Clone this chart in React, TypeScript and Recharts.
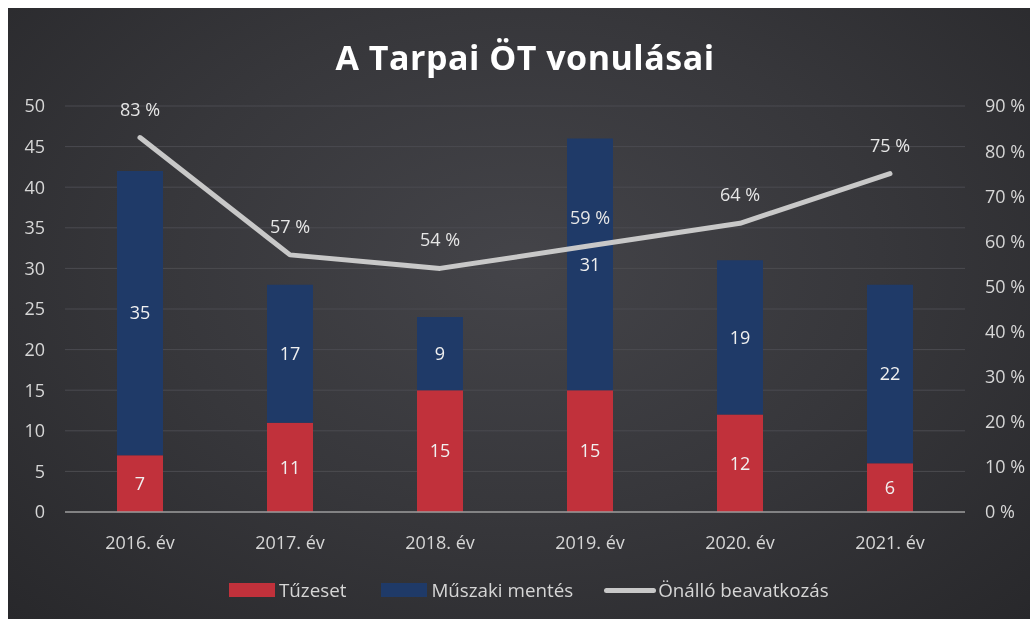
import { ComposedChart, Bar, Line, XAxis, YAxis, CartesianGrid, Legend, LabelList } from 'recharts';

const years = ['2016. év', '2017. év', '2018. év', '2019. év', '2020. év', '2021. év'];
const tuzeset = [7, 11, 15, 15, 12, 6];
const muszakiMentes = [35, 17, 9, 31, 19, 22];
const onalloBeavatkozas = [83, 57, 54, 59, 64, 75];
const leftTicks = [0, 5, 10, 15, 20, 25, 30, 35, 40, 45, 50];
const rightTicks = [0, 10, 20, 30, 40, 50, 60, 70, 80, 90];
const seriesOrder = ['Tűzeset', 'Műszaki mentés', 'Önálló beavatkozás'];

const chartData = years.map((year, i) => ({
  year,
  'Tűzeset': tuzeset[i],
  'Műszaki mentés': muszakiMentes[i],
  'Önálló beavatkozás': onalloBeavatkozas[i],
}));

const FONT = '"Open Sans", "DejaVu Sans", sans-serif';
const TEXT = '#d6d6d6';

function LegendContent(props: any) {
  const items = [...(props.payload || [])].sort(
    (a: any, b: any) => seriesOrder.indexOf(a.value) - seriesOrder.indexOf(b.value)
  );
  return (
    <div style={{ display: 'flex', alignItems: 'center', paddingLeft: 221, fontFamily: FONT, fontSize: 18.8, color: TEXT }}>
      {items.map((entry: any, idx: number) => (
        <div key={entry.value} style={{ display: 'flex', alignItems: 'center', marginRight: idx === 0 ? 35 : 31 }}>
          {entry.type === 'line' ? (
            <div style={{ width: 52, height: 5, borderRadius: 3, background: '#c8c8c8', marginRight: 2 }} />
          ) : (
            <div style={{ width: 46, height: 14, background: entry.color, marginRight: 4 }} />
          )}
          <span>{entry.value}</span>
        </div>
      ))}
    </div>
  );
}

export default function App() {
  return (
    <div
      style={{
        position: 'fixed',
        top: 8,
        left: 8,
        width: 1022,
        height: 611,
        background: 'radial-gradient(ellipse at 50% 42%, #444449 0%, #37373b 50%, #28282b 100%)',
        fontFamily: FONT,
      }}
    >
      <div
        style={{
          position: 'absolute',
          top: 26,
          left: 0,
          width: 1034,
          textAlign: 'center',
          color: '#ffffff',
          fontSize: 34,
          fontWeight: 700,
          letterSpacing: 0.5,
        }}
      >
        A Tarpai ÖT vonulásai
      </div>
      <ComposedChart
        width={1022}
        height={611}
        data={chartData}
        margin={{ top: 98, right: 0, bottom: 67, left: 0 }}
        style={{ position: 'absolute', top: 0, left: 0 }}
      >
        <CartesianGrid vertical={false} stroke="#4b4b50" strokeWidth={1} yAxisId="left" />
        <XAxis
          dataKey="year"
          height={40}
          tickLine={false}
          tickMargin={18}
          axisLine={{ stroke: '#9a9a9a', strokeWidth: 1.5 }}
          tick={{ fill: TEXT, fontSize: 18, fontFamily: FONT }}
        />
        <YAxis
          yAxisId="left"
          width={57}
          domain={[0, 50]}
          ticks={leftTicks}
          interval={0}
          axisLine={false}
          tickLine={false}
          tickMargin={14}
          tick={{ fill: TEXT, fontSize: 18, fontFamily: FONT }}
        />
        <YAxis
          yAxisId="right"
          orientation="right"
          width={65}
          domain={[0, 90]}
          ticks={rightTicks}
          interval={0}
          axisLine={false}
          tickLine={false}
          tickMargin={14}
          tickFormatter={(v) => `${v} %`}
          tick={{ fill: TEXT, fontSize: 18, fontFamily: FONT }}
        />
        <Bar yAxisId="left" dataKey="Tűzeset" stackId="a" fill="#c1313b" barSize={46} isAnimationActive={false}>
          <LabelList dataKey="Tűzeset" position="center" fill="#f0f0f0" fontSize={18} fontFamily={FONT} />
        </Bar>
        <Bar yAxisId="left" dataKey="Műszaki mentés" stackId="a" fill="#1f3a68" barSize={46} isAnimationActive={false}>
          <LabelList dataKey="Műszaki mentés" position="center" fill="#f0f0f0" fontSize={18} fontFamily={FONT} />
        </Bar>
        <Line
          yAxisId="right"
          dataKey="Önálló beavatkozás"
          type="linear"
          stroke="#c8c8c8"
          strokeWidth={5}
          strokeLinecap="round"
          strokeLinejoin="round"
          dot={false}
          activeDot={false}
          isAnimationActive={false}
        >
          <LabelList
            dataKey="Önálló beavatkozás"
            position="top"
            offset={22}
            fill="#e6e6e6"
            fontSize={18}
            fontFamily={FONT}
            formatter={(v: any) => `${v} %`}
          />
        </Line>
        <Legend
          layout="horizontal"
          verticalAlign="middle"
          align="center"
          content={LegendContent}
          wrapperStyle={{ top: 569, left: 0, width: 1022 }}
        />
      </ComposedChart>
    </div>
  );
}
